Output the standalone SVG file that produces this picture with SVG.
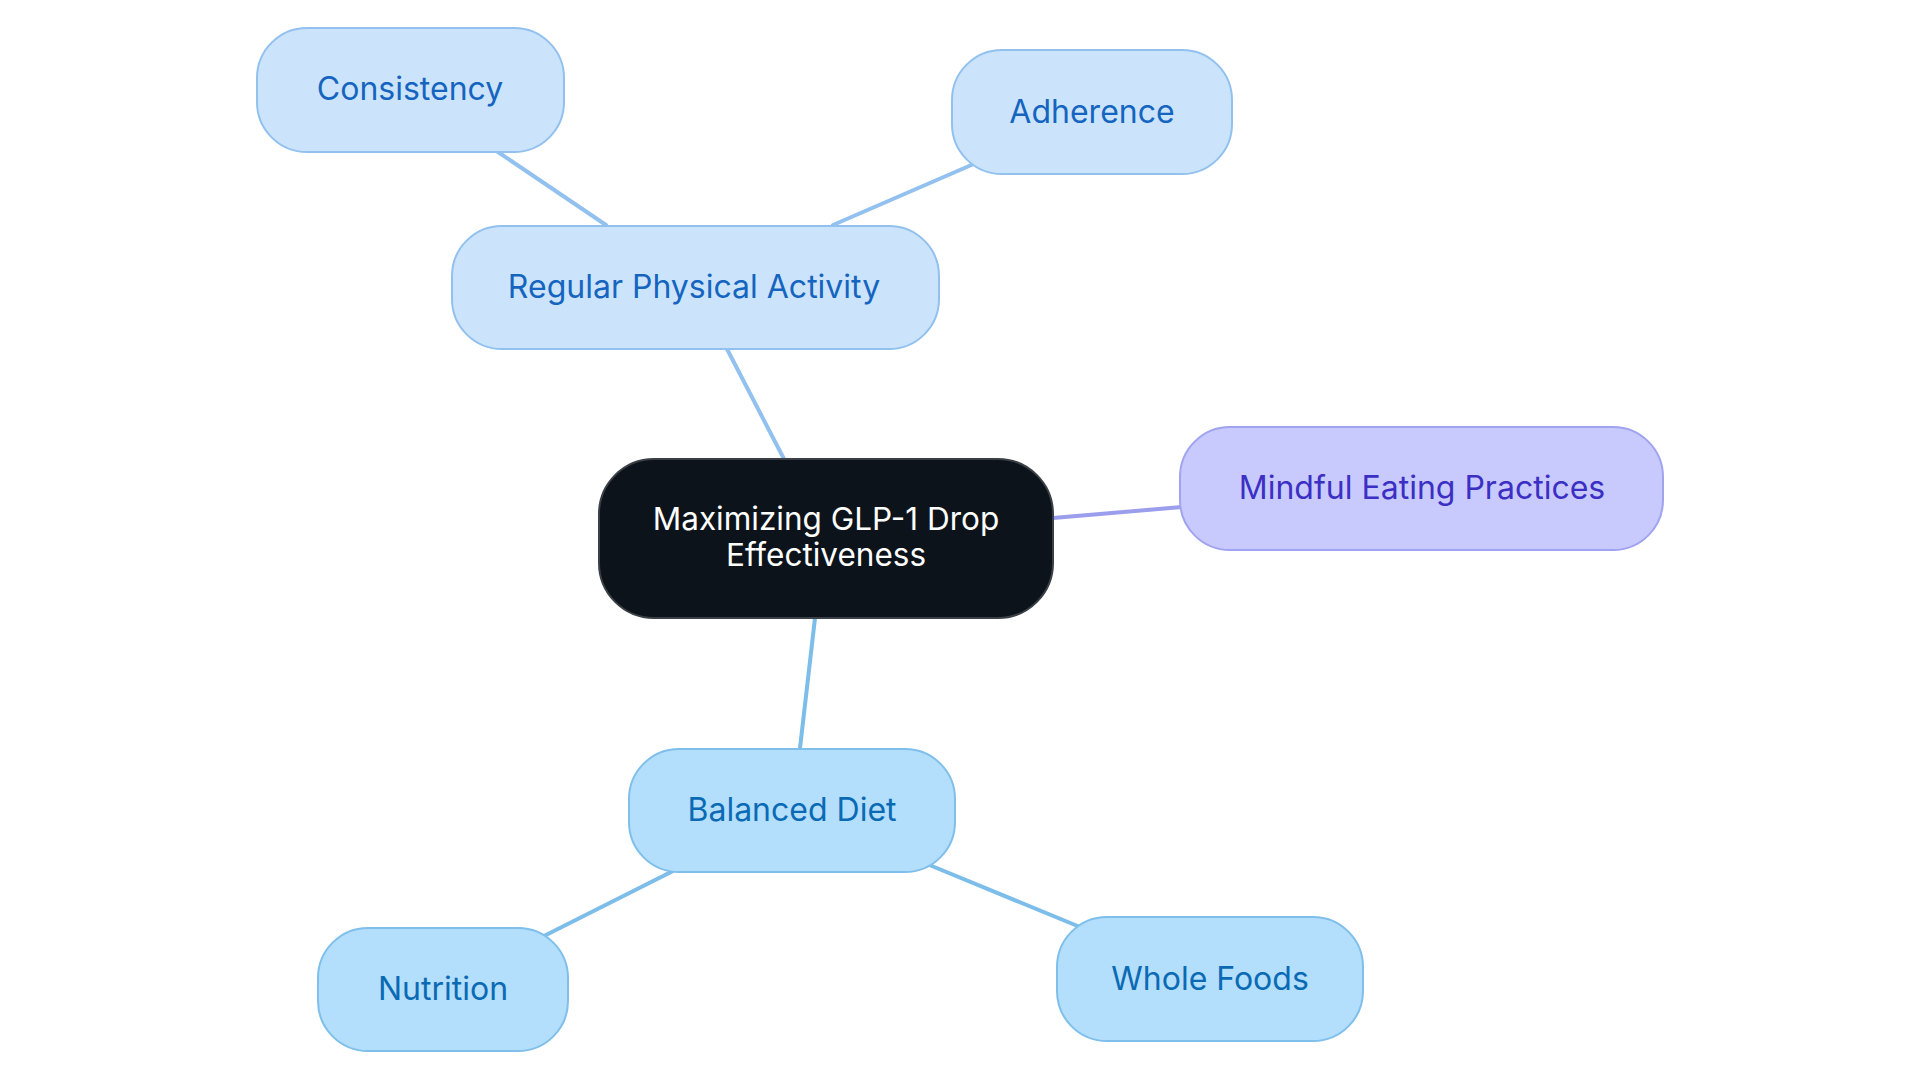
<svg xmlns="http://www.w3.org/2000/svg" width="1920" height="1083" viewBox="0 0 1920 1083">
<style>
text{font-family:Inter,"Noto Sans","Liberation Sans",sans-serif;font-size:32px;text-anchor:middle;dominant-baseline:central}
.act rect{fill:#cce4fb;stroke:#92c1ef;stroke-width:2}
.act text{fill:#1565c0}
.diet rect{fill:#b3defc;stroke:#7fbfeb;stroke-width:2}
.diet text{fill:#0a6ab4}
.mind rect{fill:#c8cafd;stroke:#a0a3f0;stroke-width:2}
.mind text{fill:#3b2fc4}
.root rect{fill:#0d131a;stroke:#3b4046;stroke-width:2}
.root text{fill:#ffffff;font-size:31.5px}
.c line{stroke-width:4;stroke-linecap:round}
</style>
<rect width="1920" height="1083" fill="#ffffff"/>
<g id="connectors" class="c">
<line x1="606" y1="225" x2="498" y2="152" stroke="#92c1ef"/>
<line x1="833" y1="225" x2="976" y2="163" stroke="#92c1ef"/>
<line x1="727" y1="349" x2="784" y2="459" stroke="#92c1ef"/>
<line x1="1053" y1="518" x2="1182" y2="507" stroke="#9b9eec"/>
<line x1="815" y1="618" x2="800" y2="748" stroke="#7dbde9"/>
<line x1="673" y1="871" x2="542" y2="937" stroke="#7dbde9"/>
<line x1="927" y1="864" x2="1080" y2="927" stroke="#7dbde9"/>
</g>
<g id="root" class="root">
<rect x="599" y="459" width="454" height="159" rx="55"/>
<text x="826" y="518">Maximizing GLP-1 Drop</text>
<text x="826" y="554">Effectiveness</text>
</g>
<g id="regular-physical-activity" class="act">
<rect x="452" y="226" width="487" height="123" rx="50"/>
<text x="694" y="286">Regular Physical Activity</text>
</g>
<g id="consistency" class="act">
<rect x="257" y="28" width="307" height="124" rx="50"/>
<text x="410" y="88">Consistency</text>
</g>
<g id="adherence" class="act">
<rect x="952" y="50" width="280" height="124" rx="50"/>
<text x="1092" y="111">Adherence</text>
</g>
<g id="mindful-eating-practices" class="mind">
<rect x="1180" y="427" width="483" height="123" rx="50"/>
<text x="1422" y="487">Mindful Eating Practices</text>
</g>
<g id="balanced-diet" class="diet">
<rect x="629" y="749" width="326" height="123" rx="50"/>
<text x="792" y="809">Balanced Diet</text>
</g>
<g id="nutrition" class="diet">
<rect x="318" y="928" width="250" height="123" rx="50"/>
<text x="443" y="988">Nutrition</text>
</g>
<g id="whole-foods" class="diet">
<rect x="1057" y="917" width="306" height="124" rx="50"/>
<text x="1210" y="978">Whole Foods</text>
</g>
</svg>
